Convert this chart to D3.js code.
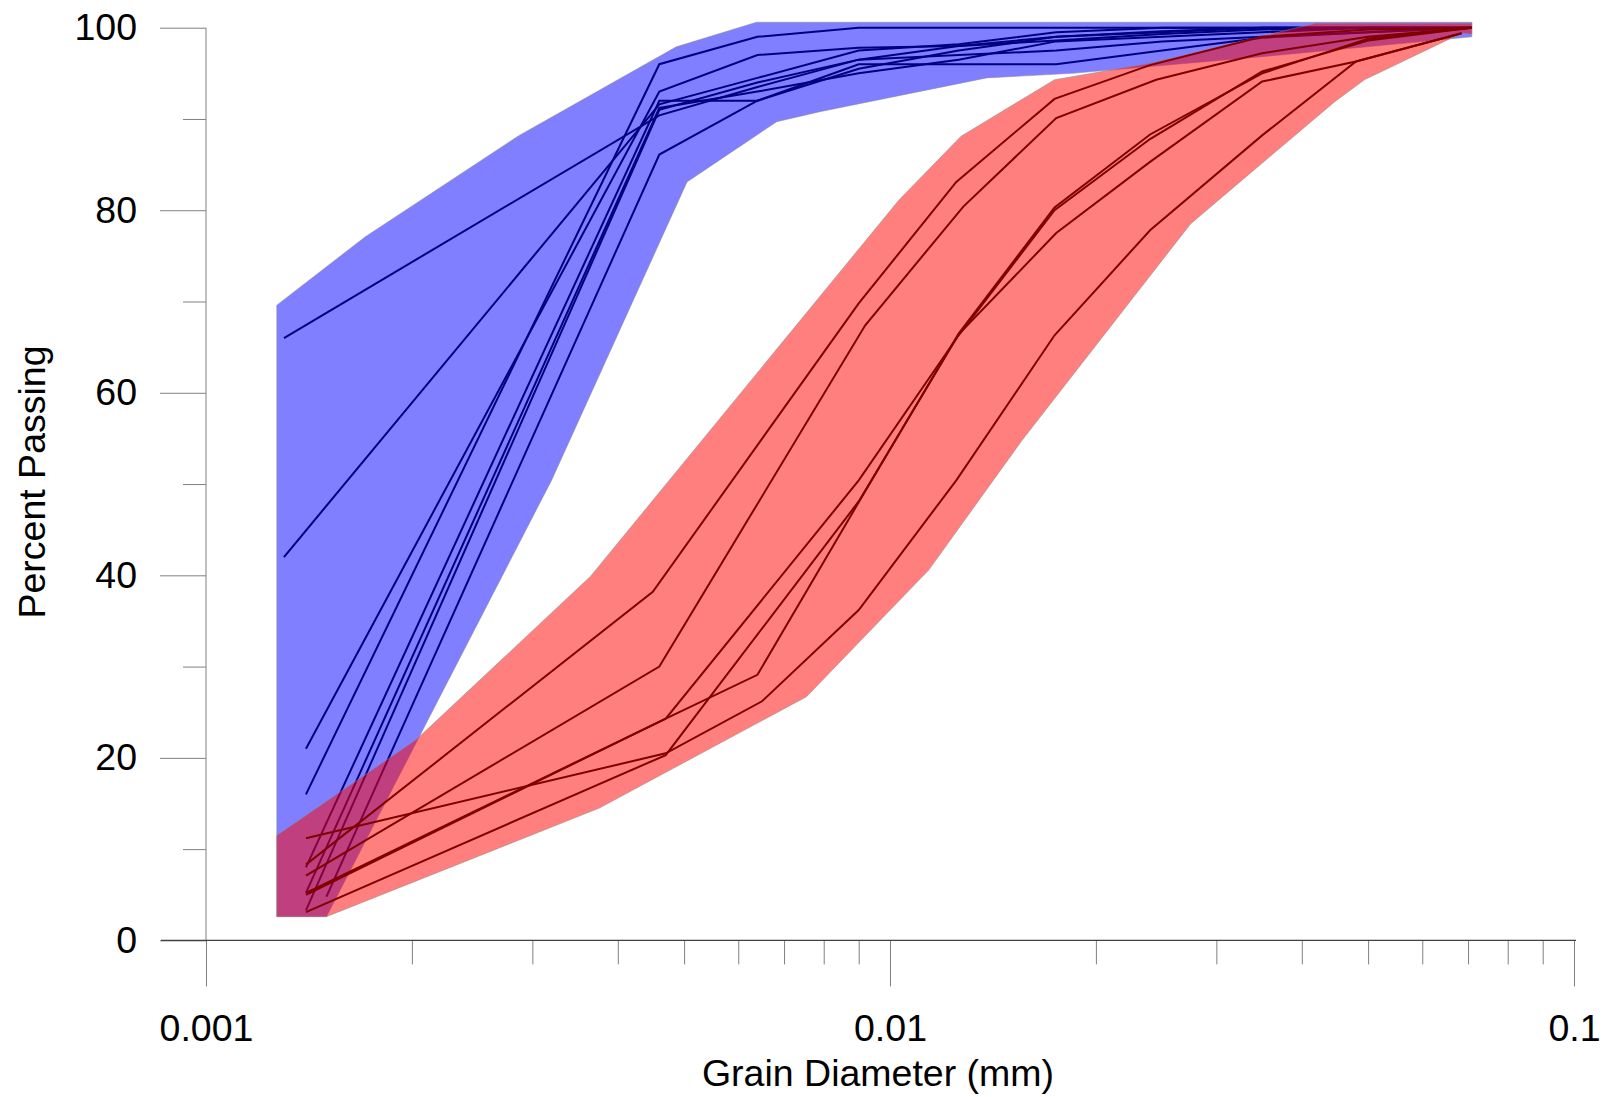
<!DOCTYPE html>
<html>
<head>
<meta charset="utf-8">
<script src="https://cdn.jsdelivr.net/npm/d3@7"></script>
<style>
  html, body { margin: 0; padding: 0; background: #ffffff; }
  svg { display: block; }
  text { font-family: "Liberation Sans", Arial, Helvetica, sans-serif; fill: #000; }
</style>
</head>
<body>
<svg id="chart" width="1608" height="1097"></svg>
<script>
// ---- Axis ticks ----
const xMajorTicks = [0.001, 0.01, 0.1];
const xMajorLabels = ["0.001", "0.01", "0.1"];
const xMinorTicks = [0.002, 0.003, 0.004, 0.005, 0.006, 0.007, 0.008, 0.009,
                     0.02, 0.03, 0.04, 0.05, 0.06, 0.07, 0.08, 0.09];
const yMajorTicks = [0, 20, 40, 60, 80, 100];
const yMinorTicks = [10, 30, 50, 70, 90];

// ---- Envelopes: [grain diameter (mm), percent passing] ----
const blueUpper = [[0.001269, 69.6], [0.00171, 77.1], [0.00287, 88.2], [0.00487, 97.9],
                   [0.00638, 100.6], [0.0709, 100.6]];
const blueLower = [[0.001269, 2.6], [0.0015, 2.6], [0.0032, 50.4], [0.00505, 83.1],
                   [0.00683, 89.7], [0.0079, 90.8], [0.01385, 94.5], [0.0185, 95.0],
                   [0.0347, 96.8], [0.0709, 99.0]];
const redUpper = [[0.001269, 11.5], [0.00203, 22.0], [0.00365, 39.9], [0.0103, 81.1],
                  [0.0127, 88.1], [0.0174, 94.3], [0.024, 96.1], [0.042, 100.5],
                  [0.0709, 100.5]];
const redLower = [[0.001269, 2.6], [0.0015, 2.6], [0.00376, 14.5], [0.00755, 26.7],
                  [0.0114, 40.6], [0.0156, 54.8], [0.0275, 78.5], [0.0447, 91.9],
                  [0.0494, 94.3], [0.0685, 99.4], [0.0709, 99.3]];

// ---- Fine-grained samples (blue) ----
const blueA = [[0.0013, 66.0], [0.0046, 90.4], [0.0064, 93.5], [0.009, 96.5], [0.0126, 98.0],
               [0.0175, 99.0], [0.025, 99.5], [0.035, 100], [0.05, 100], [0.0709, 100]];
const blueB = [[0.0013, 42.0], [0.0046, 91.6], [0.0064, 94.5], [0.009, 97.5], [0.0126, 98.2],
               [0.0175, 99.5], [0.025, 100], [0.035, 100], [0.05, 100], [0.0709, 100]];
const blueC = [[0.0014, 21.0], [0.0046, 93.0], [0.0064, 97.0], [0.009, 97.8], [0.0126, 98.0],
               [0.0175, 98.6], [0.025, 99.3], [0.035, 99.8], [0.05, 100], [0.0709, 100]];
const blueD = [[0.0014, 16.0], [0.0046, 96.0], [0.0064, 99.0], [0.009, 100], [0.0126, 100],
               [0.0175, 100], [0.025, 100], [0.035, 100], [0.05, 100], [0.0709, 100]];
const blueE = [[0.0014, 8.0], [0.0046, 92.0], [0.0064, 92.0], [0.009, 95.5], [0.0126, 97.5],
               [0.0175, 99.0], [0.025, 99.6], [0.035, 100], [0.05, 100], [0.0709, 100]];
const blueF = [[0.0014, 5.2], [0.0046, 91.2], [0.0064, 93.0], [0.009, 95.0], [0.0126, 96.5],
               [0.0175, 98.5], [0.025, 99.0], [0.035, 99.5], [0.05, 100], [0.0709, 100]];
const blueG = [[0.0014, 3.3], [0.0046, 91.0], [0.0064, 94.0], [0.009, 96.5], [0.0126, 97.0],
               [0.0175, 97.5], [0.025, 98.5], [0.035, 99.0], [0.05, 99.5], [0.0709, 100]];
const blueH = [[0.0015, 4.8], [0.0046, 86.1], [0.0064, 92.0], [0.009, 96.0], [0.0126, 96.0],
               [0.0175, 96.0], [0.025, 97.5], [0.035, 98.9], [0.05, 99.5], [0.0709, 100]];

// ---- Coarser samples (red) ----
const red1 = [[0.0014, 8.3], [0.0045, 38.2], [0.009, 69.8], [0.0125, 83.1], [0.0174, 92.2],
              [0.024, 95.9], [0.035, 99.0], [0.05, 99.8], [0.0709, 100]];
const red2 = [[0.0014, 7.1], [0.0046, 30.0], [0.0092, 67.4], [0.0128, 80.4], [0.0175, 90.1],
              [0.0245, 94.3], [0.035, 97.2], [0.05, 99.0], [0.0709, 100]];
const red3 = [[0.0014, 5.2], [0.0047, 24.3], [0.009, 50.4], [0.0126, 66.3], [0.0174, 80.0],
              [0.024, 87.8], [0.035, 95.2], [0.05, 98.6], [0.0709, 100]];
const red4 = [[0.0014, 5.0], [0.0047, 24.3], [0.0064, 29.1], [0.009, 48.0], [0.0126, 66.5],
              [0.0174, 80.3], [0.024, 88.3], [0.035, 95.0], [0.05, 98.8], [0.0709, 100]];
const red5 = [[0.0014, 3.1], [0.0047, 20.3], [0.009, 48.1], [0.0126, 66.4], [0.0175, 77.5],
              [0.024, 85.3], [0.035, 94.1], [0.048, 96.3], [0.0685, 99.4]];
const red6 = [[0.0014, 11.2], [0.0047, 20.5], [0.0065, 26.2], [0.009, 36.2], [0.0125, 50.4],
              [0.0174, 66.3], [0.024, 77.8], [0.035, 88.2], [0.048, 96.3], [0.0685, 99.4]];

const blueSamples = [blueA, blueB, blueC, blueD, blueE, blueF, blueG, blueH];
const redSamples = [red1, red2, red3, red4, red5, red6];

// ---- Layout ----
const svg = d3.select("#chart");
const x = d3.scaleLog().domain([0.001, 0.1]).range([206, 1574]);
const y = d3.scaleLinear().domain([0, 100]).range([940.4, 27.7]);
const FONT = 37.5;

const line = d3.line().x(d => x(d[0])).y(d => y(d[1]));
const band = (upper, lower) => line(upper.concat(lower.slice().reverse())) + "Z";

// Blue envelope and its curves
svg.append("path")
  .attr("d", band(blueUpper, blueLower))
  .attr("fill", "#0000ff").attr("fill-opacity", 0.5)
  .attr("stroke", "#8c8c8c").attr("stroke-opacity", 0.5).attr("stroke-width", 1);

svg.append("g").selectAll("path").data(blueSamples).join("path")
  .attr("d", line)
  .attr("fill", "none").attr("stroke", "#000080").attr("stroke-width", 2)
  .attr("stroke-linejoin", "miter");

// Red envelope and its curves
svg.append("path")
  .attr("d", band(redUpper, redLower))
  .attr("fill", "#ff0000").attr("fill-opacity", 0.5)
  .attr("stroke", "#8c8c8c").attr("stroke-opacity", 0.5).attr("stroke-width", 1);

svg.append("g").selectAll("path").data(redSamples).join("path")
  .attr("d", line)
  .attr("fill", "none").attr("stroke", "#800000").attr("stroke-width", 2)
  .attr("stroke-linejoin", "miter");

// ---- X axis ----
const gxMinor = svg.append("g").attr("transform", "translate(0,940.4)")
  .call(d3.axisBottom(x).tickValues(xMinorTicks).tickSize(24).tickFormat(""));
const gxMajor = svg.append("g").attr("transform", "translate(0,940.4)")
  .call(d3.axisBottom(x).tickValues(xMajorTicks).tickSize(46).tickPadding(28)
        .tickFormat((d, i) => xMajorLabels[i]));
[gxMinor, gxMajor].forEach(g => {
  g.select(".domain").remove();
  g.selectAll(".tick line").attr("stroke", "#808080").attr("stroke-width", 1);
});
gxMajor.selectAll(".tick text")
  .attr("font-size", FONT).attr("font-family", "Liberation Sans, Arial, sans-serif")
  .attr("fill", "#000");

// ---- Y axis ----
const gyMinor = svg.append("g").attr("transform", "translate(206,0)")
  .call(d3.axisLeft(y).tickValues(yMinorTicks).tickSize(23).tickFormat(""));
const gyMajor = svg.append("g").attr("transform", "translate(206,0)")
  .call(d3.axisLeft(y).tickValues(yMajorTicks).tickSize(46).tickPadding(23)
        .tickFormat(d3.format("d")));
[gyMinor, gyMajor].forEach(g => {
  g.select(".domain").remove();
  g.selectAll(".tick line").attr("stroke", "#808080").attr("stroke-width", 1);
});
gyMajor.selectAll(".tick text")
  .attr("font-size", FONT).attr("font-family", "Liberation Sans, Arial, sans-serif")
  .attr("fill", "#000");

// Axis lines
svg.append("line")
  .attr("x1", x(0.001)).attr("x2", x(0.001))
  .attr("y1", y(100)).attr("y2", y(0))
  .attr("stroke", "#808080").attr("stroke-width", 1);
svg.append("line")
  .attr("x1", 161).attr("x2", 1576)
  .attr("y1", y(0)).attr("y2", y(0))
  .attr("stroke", "#404040").attr("stroke-width", 1.2);

// ---- Titles ----
svg.append("text")
  .attr("x", 878).attr("y", 1086)
  .attr("text-anchor", "middle").attr("font-size", FONT)
  .text("Grain Diameter (mm)");
svg.append("text")
  .attr("transform", "translate(45,482) rotate(-90)")
  .attr("text-anchor", "middle").attr("font-size", FONT)
  .text("Percent Passing");
</script>
</body>
</html>
